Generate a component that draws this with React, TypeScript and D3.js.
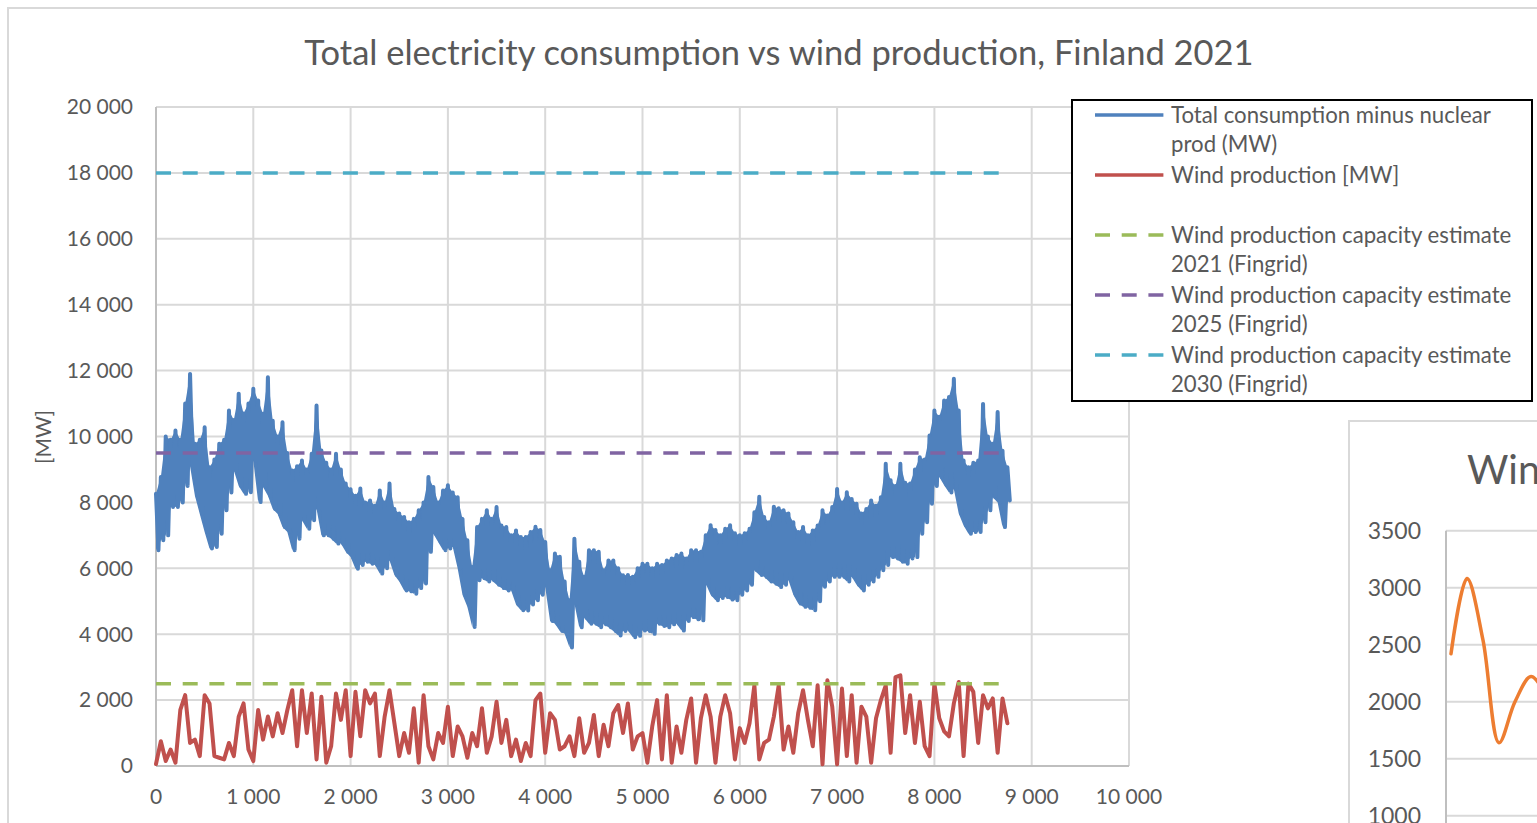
import React from 'react';
import * as d3 from 'd3';

// hourly data of 2021, read as envelopes every 50 hours
const hourStep = 50;

// upper edge of the consumption band (MW)
const consumptionHigh = [
  8260, 8770, 10000, 9900, 10180, 9900, 11000, 11900, 9780, 9900,
  10280, 9070, 9300, 9780, 9900, 10790, 10500, 11300, 10700, 11000,
  11450, 11090, 10690, 11800, 10480, 10000, 10430, 9500, 8970, 9100,
  9270, 9000, 9475, 10940, 9575, 9200, 9000, 9475, 9000, 8570,
  8400, 8200, 8420, 8000, 8060, 7900, 8360, 8000, 8570, 7800,
  7660, 7560, 7400, 7500, 7760, 8000, 8770, 8470, 8000, 8360,
  8520, 8300, 8160, 7500, 6850, 6040, 7250, 7500, 7760, 7500,
  7860, 7300, 7250, 7000, 7150, 6950, 6950, 7100, 7260, 7160,
  6800, 5940, 6450, 6350, 5600, 5030, 6900, 6200, 5740, 6550,
  6550, 6500, 5940, 6240, 6240, 6000, 5790, 5800, 5740, 6000,
  6140, 6140, 6000, 6140, 6100, 6240, 6300, 6400, 6450, 6300,
  6550, 6550, 6500, 7000, 7310, 7160, 7000, 7200, 7310, 7060,
  7000, 7060, 7200, 7700, 8170, 7560, 7400, 7870, 7820, 7760,
  7660, 7400, 7100, 7250, 7000, 7150, 7300, 7760, 7600, 7860,
  8410, 8000, 8310, 8100, 7960, 7660, 7800, 8060, 7900, 8160,
  9170, 8670, 8500, 9170, 8600, 8570, 9000, 9370, 9300, 10030,
  10790, 10600, 11090, 11200, 11750, 10790, 9270, 9070, 9200, 9270,
  10990, 10000, 9780, 10740, 9570, 9070,
];

// lower edge of the consumption band (MW)
const consumptionLow = [
  6550, 6850, 7000, 7860, 7860, 8000, 8500, 9100, 8200, 7650,
  7100, 6600, 6650, 7050, 7760, 8300, 8970, 8500, 8260, 8310,
  9270, 8010, 8470, 8200, 7800, 7650, 7250, 7100, 6550, 6900,
  7460, 7200, 7460, 7800, 7000, 7000, 6900, 6750, 6750, 6500,
  6340, 5990, 6100, 6200, 6140, 6100, 5840, 6000, 6240, 5800,
  5600, 5330, 5300, 5230, 5400, 5540, 6500, 7050, 6800, 6550,
  6600, 6650, 6000, 5200, 4830, 4220, 5640, 5700, 5600, 5640,
  5500, 5400, 5330, 5330, 4900, 4730, 4720, 4900, 5030, 5200,
  5430, 4400, 4320, 4100, 4010, 3600, 4930, 4210, 4500, 4320,
  4320, 4210, 4300, 4210, 4100, 3960, 4100, 4110, 3910, 3950,
  4110, 4100, 4010, 4320, 4250, 4210, 4300, 4320, 4110, 4400,
  4520, 4450, 4420, 5530, 5200, 5030, 5100, 5130, 5050, 5030,
  5200, 5330, 5500, 5940, 5800, 5740, 5600, 5530, 5430, 5500,
  5640, 5200, 4930, 4830, 4800, 4730, 5000, 5440, 5600, 5740,
  5740, 5740, 5600, 5740, 5500, 5330, 5500, 5600, 5740, 5940,
  6100, 6340, 6300, 6200, 6140, 6300, 6340, 7050, 7400, 7960,
  8500, 8770, 8520, 8300, 8400, 7660, 7300, 7050, 7100, 7100,
  7400, 7760, 8160, 8000, 7250, 8060,
];

// wind production (MW)
const windProduction = [
  60, 750, 150, 500, 100, 1700, 2150, 700, 800, 300,
  2150, 1900, 300, 250, 200, 700, 300, 1500, 1900, 500,
  150, 1700, 800, 1500, 900, 1600, 1000, 1700, 2300, 600,
  2300, 1000, 2200, 200, 2100, 100, 600, 2200, 1400, 2300,
  300, 2250, 900, 2300, 1900, 2200, 300, 1500, 2300, 1300,
  300, 1000, 400, 1750, 100, 2150, 600, 200, 1000, 700,
  1800, 300, 1200, 900, 250, 1000, 600, 1750, 400, 900,
  1950, 700, 1400, 300, 800, 150, 700, 300, 2000, 2200,
  400, 1600, 1400, 500, 600, 900, 300, 1450, 400, 700,
  1550, 300, 1250, 600, 1600, 1850, 1000, 1900, 500, 900,
  1000, 100, 1200, 2000, 200, 2150, 100, 1200, 400, 1400,
  2050, 100, 1450, 2150, 1500, 100, 1500, 2150, 1600, 200,
  1150, 700, 1300, 2450, 200, 700, 800, 1500, 2450, 500,
  1200, 400, 1600, 2300, 1400, 600, 2450, 50, 2600, 1800,
  50, 2350, 300, 2150, 100, 1800, 1500, 100, 1450, 2000,
  2450, 400, 2700, 2750, 1000, 2150, 700, 1950, 600, 300,
  2500, 1450, 1050, 900, 1900, 2550, 300, 2500, 2250, 700,
  2150, 1750, 2050, 400, 2050, 1300,
];

const hoursInYear = 8760;
const capacityValues = [2500, 9500, 18000];

const xTicks = [0, 1000, 2000, 3000, 4000, 5000, 6000, 7000, 8000, 9000, 10000];
const yTicks = [0, 2000, 4000, 6000, 8000, 10000, 12000, 14000, 16000, 18000, 20000];

const chartTitle = 'Total electricity consumption vs wind production, Finland 2021';
const yAxisTitle = '[MW]';
const legendLabels = [
  ['Total consumption minus nuclear', 'prod (MW)'],
  ['Wind production [MW]'],
  [],
  ['Wind production capacity estimate', '2021 (Fingrid)'],
  ['Wind production capacity estimate', '2025 (Fingrid)'],
  ['Wind production capacity estimate', '2030 (Fingrid)'],
];

// second chart, partly visible at the right edge
const secondTitle = 'Wind production';
const secondValues = [2420, 3080, 2540, 1640, 2000, 2220, 2050];
const secondTicks = [1000, 1500, 2000, 2500, 3000, 3500];

const FONT = "Lato, 'Open Sans', sans-serif";
const TEXT = '#595959';
const GRID = '#d9d9d9';
const seriesColors = ['#4f81bd', '#c0504d'];
const capacityColors = ['#9bbb59', '#8064a2', '#4bacc6'];
const DASH = '15 11.7';

const plot = { left: 156, right: 1129, top: 107, bottom: 766 };

export default function App() {
  const x = d3.scaleLinear().domain([0, 10000]).range([plot.left, plot.right]);
  const y = d3.scaleLinear().domain([0, 20000]).range([plot.bottom, plot.top]);
  const fmt = d3
    .formatLocale({ decimal: ',', thousands: '\u00a0', grouping: [3], currency: ['', ''] })
    .format(',d');

  // daily swing: go up to the high, down to the low, in turn
  const bandPoints: [number, number][] = [];
  consumptionHigh.forEach((hi, i) => {
    bandPoints.push([i * hourStep, hi]);
    bandPoints.push([i * hourStep + hourStep / 2, consumptionLow[i]]);
  });
  const windPoints: [number, number][] = windProduction.map((v, i) => [i * hourStep, v]);

  const line = d3
    .line<[number, number]>()
    .x((d) => x(d[0]))
    .y((d) => y(d[1]));

  // the band between highs and lows is filled solid, as the dense hourly line looks
  const band = d3
    .area<number>()
    .x((d, i) => x(i * hourStep))
    .y0((d, i) => y(consumptionLow[i]))
    .y1((d) => y(d));

  // second chart scales
  const x2 = d3.scaleLinear().domain([0, secondValues.length - 1]).range([1451, 1547]);
  const y2 = d3.scaleLinear().domain([1000, 3500]).range([815.7, 530.7]);
  const line2 = d3
    .line<number>()
    .x((d, i) => x2(i))
    .y((d) => y2(d))
    .curve(d3.curveCatmullRom);

  const legendRowY = [115, 175, 205, 235, 295, 355];
  const legendStyles = [
    { color: seriesColors[0], dash: undefined },
    { color: seriesColors[1], dash: undefined },
    null,
    { color: capacityColors[0], dash: DASH },
    { color: capacityColors[1], dash: DASH },
    { color: capacityColors[2], dash: DASH },
  ];

  return (
    <svg
      width={1537}
      height={823}
      style={{ position: 'absolute', left: 0, top: 0, background: '#fff' }}
      fontFamily={FONT}
    >
      <rect x={0} y={0} width={1537} height={823} fill="#fff" />
      {/* chart frame */}
      <rect x={8} y={8} width={1700} height={900} fill="#fff" stroke={GRID} strokeWidth={2} />

      <text x={779} y={53} dy="0.35em" textAnchor="middle" fontSize={34.5} fill={TEXT}>
        {chartTitle}
      </text>

      {/* grid */}
      <g>
        {yTicks.map((t) => (
          <line key={'gy' + t} x1={plot.left} x2={plot.right} y1={y(t)} y2={y(t)} stroke={GRID} strokeWidth={2} />
        ))}
        {xTicks.map((t) => (
          <line key={'gx' + t} x1={x(t)} x2={x(t)} y1={plot.top} y2={plot.bottom} stroke={GRID} strokeWidth={2} />
        ))}
        <line x1={plot.left} x2={plot.left} y1={plot.top} y2={plot.bottom} stroke="#bfbfbf" strokeWidth={2} />
        <line x1={plot.left} x2={plot.right} y1={plot.bottom} y2={plot.bottom} stroke="#bfbfbf" strokeWidth={2} />
      </g>

      {/* tick labels */}
      <g fontSize={21} fill={TEXT}>
        {yTicks.map((t) => (
          <text key={'ly' + t} x={133} y={y(t)} dy="0.35em" textAnchor="end">
            {fmt(t)}
          </text>
        ))}
        {xTicks.map((t) => (
          <text key={'lx' + t} x={x(t)} y={797} dy="0.35em" textAnchor="middle">
            {fmt(t)}
          </text>
        ))}
      </g>
      <text
        transform={`translate(44,437) rotate(-90)`}
        dy="0.35em"
        textAnchor="middle"
        fontSize={21}
        fill={TEXT}
      >
        {yAxisTitle}
      </text>

      {/* series */}
      <path d={band(consumptionHigh) ?? ''} fill={seriesColors[0]} stroke="none" />
      <path d={line(bandPoints) ?? ''} fill="none" stroke={seriesColors[0]} strokeWidth={4} strokeLinejoin="round" strokeLinecap="round" />
      <path d={line(windPoints) ?? ''} fill="none" stroke={seriesColors[1]} strokeWidth={4} strokeLinejoin="round" strokeLinecap="round" />
      {capacityValues.map((v, i) => (
        <line
          key={'cap' + v}
          x1={x(0)}
          x2={x(hoursInYear)}
          y1={y(v)}
          y2={y(v)}
          stroke={capacityColors[i]}
          strokeWidth={3.5}
          strokeDasharray={DASH}
        />
      ))}

      {/* legend */}
      <rect x={1072} y={100} width={460} height={301} fill="#fff" stroke="#000" strokeWidth={2} />
      {legendLabels.map((lines, i) => {
        const st = legendStyles[i];
        const cy = legendRowY[i];
        return (
          <g key={'leg' + i}>
            {st && (
              <line x1={1095} x2={1163.4} y1={cy} y2={cy} stroke={st.color} strokeWidth={3.5} strokeDasharray={st.dash} />
            )}
            {lines.map((s, j) => (
              <text key={j} x={1171} y={cy + j * 29} dy="0.35em" fontSize={22.2} fill={TEXT}>
                {s}
              </text>
            ))}
          </g>
        );
      })}

      {/* second chart, cut by the window edge */}
      <rect x={1349} y={421} width={400} height={500} fill="#fff" stroke={GRID} strokeWidth={2} />
      <text x={1467} y={470} dy="0.35em" fontSize={40} fill={TEXT}>
        {secondTitle}
      </text>
      {secondTicks.map((t) => (
        <g key={'s' + t}>
          <line x1={1446} x2={1600} y1={y2(t)} y2={y2(t)} stroke={GRID} strokeWidth={2} />
          <text x={1421} y={y2(t)} dy="0.35em" textAnchor="end" fontSize={23} fill={TEXT}>
            {t}
          </text>
        </g>
      ))}
      <line x1={1446} x2={1446} y1={530.7} y2={900} stroke="#bfbfbf" strokeWidth={2} />
      <path d={line2(secondValues) ?? ''} fill="none" stroke="#ed7d31" strokeWidth={3.5} strokeLinecap="round" />
    </svg>
  );
}
